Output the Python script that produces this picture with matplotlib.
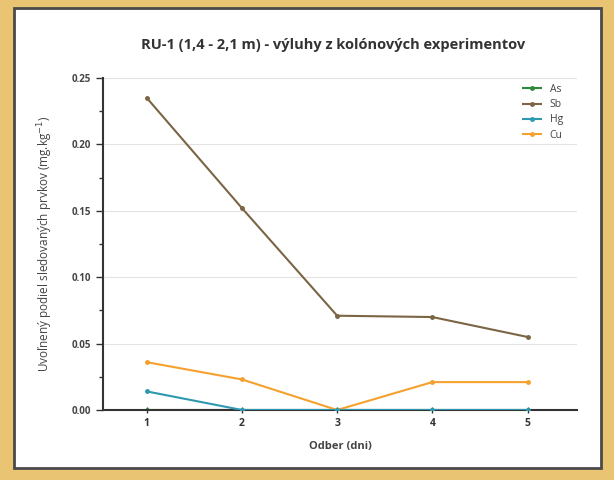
import numpy as np
import matplotlib.pyplot as plt
from matplotlib.patches import Rectangle
from matplotlib.ticker import MultipleLocator

odber = [1, 2, 3, 4, 5]
as_vals = [0.0, 0.0, 0.0, 0.0, 0.0]
sb_vals = [0.235, 0.152, 0.071, 0.070, 0.055]
hg_vals = [0.014, 0.0, 0.0, 0.0, 0.0]
cu_vals = [0.036, 0.023, 0.0, 0.021, 0.021]

plt.rcParams['font.family'] = ['Open Sans', 'DejaVu Sans']

fig = plt.figure(figsize=(6.14, 4.80), dpi=100)
fig.patch.set_facecolor('#E9C472')

# white panel with dark border
panel = Rectangle((14 / 614, 1 - 468 / 480), 587 / 614, 460 / 480,
                  transform=fig.transFigure, facecolor='white',
                  edgecolor='#4a4a4a', linewidth=2, zorder=-5)
fig.patches.append(panel)

ax = fig.add_axes([103 / 614, 1 - 410 / 480, 474 / 614, 332 / 480])
ax.set_facecolor('none')

ax.plot(odber, cu_vals, color='#F5A12E', lw=1.5, marker='o', ms=2.5, label='Cu', zorder=3)
ax.plot(odber, hg_vals, color='#2E98B0', lw=1.5, marker='o', ms=2.5, label='Hg', zorder=4)
ax.plot(odber, sb_vals, color='#7B6544', lw=1.5, marker='o', ms=2.5, label='Sb', zorder=3)
ax.plot(odber, as_vals, color='#2E8B3E', lw=1.5, marker='o', ms=2.5, label='As', zorder=2)

ax.set_xlim(0.54, 5.52)
ax.set_ylim(0, 0.25)
ax.set_xticks(odber)
ax.yaxis.set_major_locator(MultipleLocator(0.05))
ax.yaxis.set_minor_locator(MultipleLocator(0.025))
ax.yaxis.set_major_formatter(plt.FuncFormatter(lambda v, p: f'{v:.2f}'))
ax.grid(axis='y', color='#e3e3e3', lw=0.8)
ax.set_axisbelow(True)

for s in ['top', 'right']:
    ax.spines[s].set_visible(False)
for s in ['left', 'bottom']:
    ax.spines[s].set_color('#333333')
    ax.spines[s].set_linewidth(1.5)

ax.tick_params(axis='y', which='major', length=5, width=1, color='#333333',
               labelsize=7, labelcolor='#444444')
ax.tick_params(axis='y', which='minor', length=3, width=1, color='#333333')
ax.tick_params(axis='x', length=4, width=1, direction='inout', color='#333333',
               labelsize=7.5, labelcolor='#333333')
for lab in ax.get_xticklabels() + ax.get_yticklabels():
    lab.set_fontweight('bold')

ax.set_xlabel('Odber (dni)', fontsize=8, fontweight='bold', color='#444444', labelpad=9)
ax.set_ylabel('Uvoľnený podiel sledovaných prvkov (mg.kg$^{-1}$)', fontsize=8.5,
              color='#444444', labelpad=12)
fig.text(0.542, 1 - 45 / 480, 'RU-1 (1,4 - 2,1 m) - výluhy z kolónových experimentov',
         ha='center', va='center', fontsize=10.5, fontweight='bold', color='#333333')

handles, labels = ax.get_legend_handles_labels()
order = [3, 2, 1, 0]
ax.legend([handles[i] for i in order], [labels[i] for i in order],
          loc='upper right', bbox_to_anchor=(0.99, 1.01), frameon=False,
          fontsize=7.5, handlelength=1.8, labelspacing=0.4, labelcolor='#444444')

fig.savefig('out.png', dpi=100, facecolor=fig.get_facecolor())
